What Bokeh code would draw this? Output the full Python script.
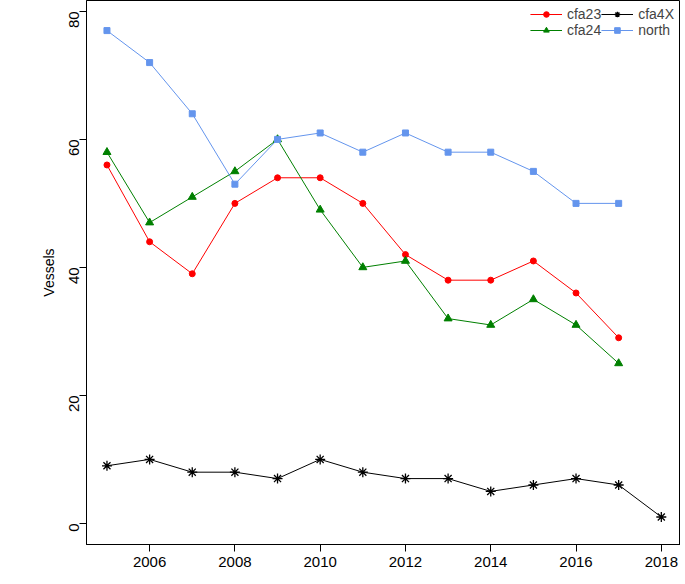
import math
from bokeh.plotting import figure
from bokeh.embed import file_html
from bokeh.resources import INLINE
from bokeh.models import Legend, LegendItem, FixedTicker, Range1d

years = list(range(2005, 2018))
years4x = list(range(2005, 2019))
cfa23 = [56,44,39,50,54,54,50,42,38,38,41,36,29]
cfa24 = [58,47,51,55,60,49,40,41,32,31,35,31,25]
cfa4X = [9,10,8,8,7,10,8,7,7,5,6,7,6,1]
north = [77,72,64,53,60,61,58,61,58,58,55,50,50]
xticks = [2006,2008,2010,2012,2014,2016,2018]
yticks = [0,20,40,60,80]

p = figure(width=680, height=574, output_backend="svg", toolbar_location=None,
           x_range=Range1d(2004.52, 2018.45), y_range=Range1d(-3.3, 81.7),
           min_border_left=86, min_border_right=0, min_border_top=0, min_border_bottom=30)
p.grid.visible = False
p.outline_line_color = "black"
p.background_fill_color = "white"
F = "Liberation Sans"
for ax in (p.xaxis[0], p.yaxis[0]):
    ax.axis_line_color = "black"
    ax.major_tick_out = 7
    ax.major_tick_in = 0
    ax.minor_tick_line_color = None
    ax.major_label_text_font = F
    ax.major_label_text_font_size = "15px"
    ax.major_label_text_color = "black"
p.xaxis.ticker = FixedTicker(ticks=xticks)
p.yaxis.ticker = FixedTicker(ticks=yticks)
p.yaxis.major_label_orientation = math.pi/2
p.yaxis.axis_label = "Vessels"
p.yaxis.axis_label_text_font = F
p.yaxis.axis_label_text_color = "black"
p.yaxis.axis_label_text_font_style = "normal"
p.yaxis.axis_label_text_font_size = "14px"

items = []
def series(x, y, color, marker, name, size=8):
    l = p.line(x, y, line_color=color, line_width=1)
    kw = dict(size=size, marker=marker, line_color=color)
    if marker == "asterisk":
        kw.update(fill_color=color, line_width=1.3)
    else:
        kw.update(fill_color=color)
    s = p.scatter(x, y, **kw)
    items.append(LegendItem(label=name, renderers=[l, s]))

series(years, cfa23, "red", "circle", "cfa23", 6)
series(years, cfa24, "green", "triangle", "cfa24", 8)
series(years4x, cfa4X, "black", "asterisk", "cfa4X", 10)
series(years, north, "#6495ED", "square", "north", 6)

leg = Legend(items=items, location="top_right", ncols=2,
             border_line_color=None, background_fill_alpha=0,
             label_text_font=F, label_text_font_size="14px",
             spacing=0, padding=4, label_height=14, glyph_height=14, glyph_width=32,
             margin=6)
p.add_layout(leg)

open("out.html", "w").write(file_html(p, INLINE))
